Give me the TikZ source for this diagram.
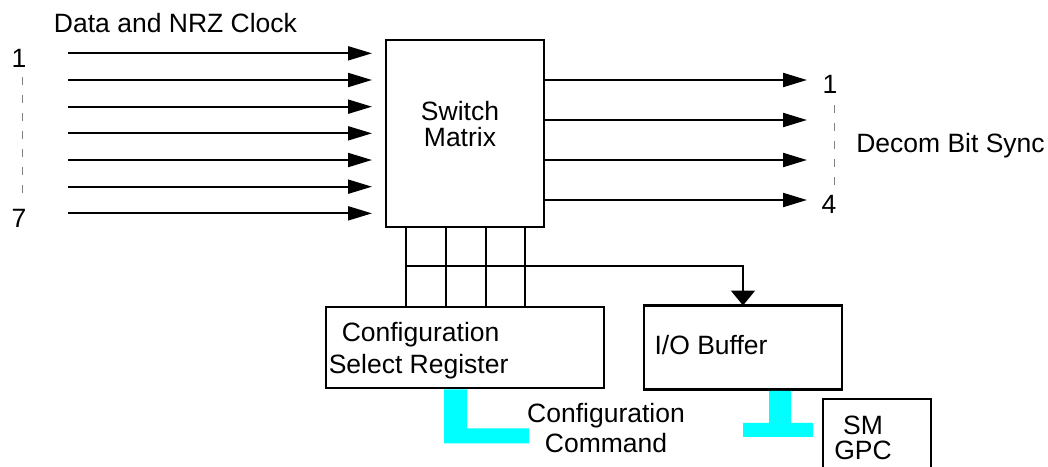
\documentclass[tikz,border=0pt]{standalone}
\usepackage{fontspec}
\setmainfont{Liberation Sans}
\usetikzlibrary{arrows.meta, positioning, calc}
\definecolor{cmdcyan}{RGB}{0,255,255}

\begin{document}
\begin{tikzpicture}[x=1pt, y=-1pt, line width=2pt, font=\fontsize{26.5}{26}\selectfont,
  >={Triangle[length=24pt, width=14pt]},
  box/.style={draw, line width=2.5pt, inner sep=0pt, outer sep=0pt},
  txt/.style={inner sep=0pt, outer sep=0pt},
  sig/.style={->, line width=2pt},
  tap/.style={-{Triangle[length=15pt, width=24pt]}, line width=2pt},
  dots/.style={gray, line width=1pt, dash pattern=on 8pt off 10pt},
  cmd/.style={fill=cmdcyan}]
\useasboundingbox (0,0) rectangle (1048,466);
\clip (0,0) rectangle (1048,466);

\node[box, minimum width=158, minimum height=187] (sw) at (465,133.5) {};
\node[box, minimum width=278, minimum height=81] (csr) at (465,347.5) {};
\node[box, minimum width=198, minimum height=84, right=40pt of csr] (iob) {};
\node[box, minimum width=108, minimum height=130, anchor=north west] (gpc) at (823,399) {};

\foreach \i in {1,...,7} {
  \coordinate (in\i) at (68,{53.33+26.67*(\i-1)});
  \draw[sig, shorten >=14pt] (in\i) -- (in\i -| sw.west);
}
\foreach \i/\y in {1/80,2/120,3/160,4/200} {
  \coordinate (out\i) at (807,\y);
  \draw[sig] (out\i -| sw.east) -- (out\i);
}

\foreach \i/\dx in {1/20,2/60,3/100,4/139} {
  \coordinate (ctl\i) at ($(sw.south west)+(\dx,0)$);
  \draw (ctl\i) -- (ctl\i |- csr.north);
}
\coordinate (bus) at ($(ctl1)+(0,39)$);
\draw[tap] (bus) -| (iob.north);

\fill[cmd] ($(csr.south west)+(118,1.25)$) -- ++(23,0) -- ++(0,39) -- ++(62,0) -- ++(0,15) -- ++(-85,0) -- cycle;
\fill[cmd] ($(iob.south west)+(125,1.25)$) -- ++(22,0) -- ++(0,32) -- ++(22,0) -- ++(0,14) -- ++(-70,0) -- ++(0,-14) -- ++(26,0) -- cycle;

\node[txt, anchor=base] (title) at (175.5,32) {Data and NRZ Clock};
\node[txt, anchor=base] (inA) at (19,67) {1};
\node[txt, anchor=base] (inZ) at (19,227) {7};
\draw[dots, shorten <=10pt, shorten >=15pt] ([xshift=3pt]inA.south) -- ([xshift=3pt]inZ.north);
\node[txt, anchor=base] (outA) at (830,93) {1};
\node[txt, anchor=base] (outZ) at (829,213) {4};
\draw[dots, shorten <=12pt, shorten >=7pt] ([xshift=4pt]outA.south) -- ([xshift=5pt]outZ.north);
\node[txt, anchor=base] (decom) at (950.5,152) {Decom Bit Sync};

\node[txt, align=center] (swtxt) at (460,124.4) {Switch\\Matrix};
\node[txt, align=left, font=\fontsize{26.5}{32}\selectfont] (csrtxt) at (418.6,351.1) {\hspace*{13pt}Configuration\\Select Register};
\node[txt, anchor=base west] (iobtxt) at (654.6,354) {I/O Buffer};
\node[txt, align=center, font=\fontsize{26.5}{30.5}\selectfont] (cmdtxt) at (606,427.8) {Configuration\\Command};
\node[txt, align=center, font=\fontsize{26.5}{25}\selectfont] (gpctxt) at (863,438) {SM\\GPC};
\end{tikzpicture}
\end{document}
